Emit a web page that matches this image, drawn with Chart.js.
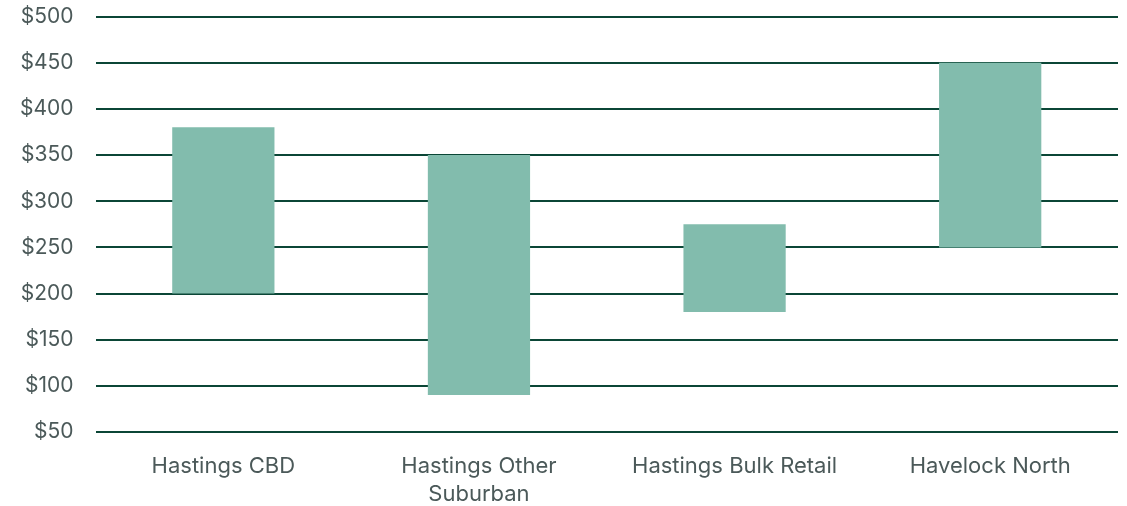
<!DOCTYPE html>
<html>
<head>
<meta charset="utf-8">
<script src="https://cdn.jsdelivr.net/npm/chart.js@4"></script>
<style>
html,body{margin:0;padding:0;background:#fff;}
#wrap{width:1127px;height:506px;position:relative;}
</style>
</head>
<body>
<div id="wrap"><canvas id="c"></canvas></div>
<script>
const categories = [["Hastings CBD"], ["Hastings Other", "Suburban"], ["Hastings Bulk Retail"], ["Havelock North"]];
const lowValues = [200, 90, 180, 250];
const highValues = [380, 350, 275, 450];
const yMin = 50, yMax = 500, yStep = 50;

const ranges = lowValues.map((lo, i) => [lo, highValues[i]]);

new Chart(document.getElementById('c'), {
  type: 'bar',
  data: {
    labels: categories,
    datasets: [{
      data: ranges,
      backgroundColor: '#82bcad',
      borderWidth: 0,
      barPercentage: 0.4,
      categoryPercentage: 1.0
    }]
  },
  options: {
    responsive: true,
    maintainAspectRatio: false,
    animation: false,
    layout: { padding: { top: 0, right: 9, left: 16, bottom: 0 } },
    plugins: { legend: { display: false }, tooltip: { enabled: false } },
    scales: {
      x: {
        grid: { display: false, drawTicks: false },
        border: { display: false },
        ticks: { color: '#4b5959', font: { family: 'Inter', size: 22, lineHeight: 1.27 }, padding: 20, maxRotation: 0 },
        afterFit: s => { s.height = 74; }
      },
      y: {
        min: yMin, max: yMax,
        grid: { color: '#0b4636', lineWidth: 2, drawTicks: true, tickLength: 18, tickColor: 'rgba(0,0,0,0)' },
        border: { display: false },
        ticks: { stepSize: yStep, color: '#4b5959', font: { family: 'Inter', size: 21 }, padding: 4,
          callback: v => '$' + v }
      }
    }
  }
});
</script>
</body>
</html>
